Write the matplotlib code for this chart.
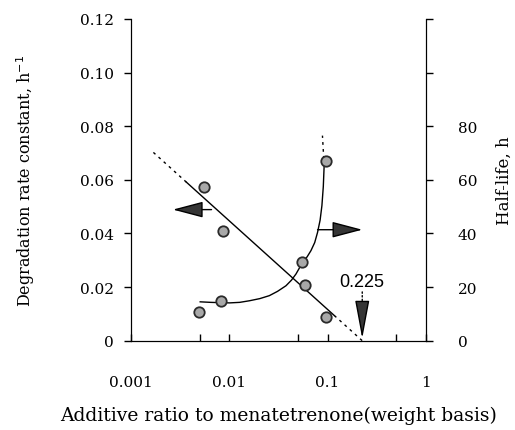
import numpy as np
import matplotlib
matplotlib.use("Agg")
import matplotlib.pyplot as plt
from matplotlib.ticker import FixedLocator, NullFormatter

plt.rcParams['font.family'] = ['DejaVu Serif']

# degradation rate constant (left axis)
ratio_k = [0.0055, 0.0086, 0.059, 0.097]
rate_k = [0.0573, 0.0409, 0.0208, 0.0088]

# half-life (right axis)
ratio_h = [0.0049, 0.0082, 0.055, 0.097]
half_life = [10.7, 14.8, 29.4, 67.0]

# regression line k = a + b*log10(x), zero at 0.225
x_zero = 0.225
slope = -0.0331
line_solid = [0.00366, 0.117]
line_dash_lo = [0.0017, 0.00366]
line_dash_hi = [0.117, 0.225]

# fitted half-life curve
curve_x = [0.00508, 0.0065, 0.00798, 0.0101, 0.0128, 0.0161, 0.0205, 0.0256,
           0.031, 0.0378, 0.0430, 0.0478, 0.0557, 0.062, 0.0678, 0.0740,
           0.0791, 0.0840, 0.0876, 0.0905, 0.0923]
curve_h = [14.5, 14.3, 14.2, 14.1, 14.3, 14.9, 15.7, 16.8, 18.4, 20.5,
           22.6, 24.9, 29.2, 31.3, 33.6, 36.6, 40.4, 45.0, 50.4, 57.5, 65.3]
curve_dash_x = [0.0923, 0.0887]
curve_dash_h = [65.3, 76.5]


def kline(x):
    x = np.array(x)
    return slope * (np.log10(x) - np.log10(x_zero))


fig = plt.figure(figsize=(5.15, 4.31), dpi=100)
ax = fig.add_axes([0.2538, 0.2072, 0.8272 - 0.2538, 0.9536 - 0.2072])
ax2 = ax.twinx()

ax.set_xscale('log')
ax.set_xlim(0.001, 1)
ax.set_ylim(0, 0.12)
ax2.set_ylim(0, 120)

# k line
xs = np.logspace(np.log10(line_solid[0]), np.log10(line_solid[1]), 50)
ax.plot(xs, kline(xs), color='black', lw=1)
for seg in (line_dash_lo, line_dash_hi):
    xs = np.logspace(np.log10(seg[0]), np.log10(seg[1]), 20)
    ax.plot(xs, kline(xs), color='black', lw=1, ls=(0, (2, 3)))

# half-life curve
ax2.plot(curve_x, curve_h, color='black', lw=1, solid_joinstyle='round')
ax2.plot(curve_dash_x, curve_dash_h, color='black', lw=1, ls=(0, (2, 3)))

mk = dict(marker='o', ls='none', ms=7.5, mfc='#a8a8a8', mec='#2a2a2a', mew=1.3, zorder=5)
ax.plot(ratio_k, rate_k, **mk)
ax2.plot(ratio_h, half_life, **mk)

# arrows
head = dict(arrowstyle='-|>,head_length=1.9,head_width=0.5', fc='#353535',
            ec='black', lw=1, mutation_scale=10, shrinkA=0, shrinkB=0)
ax.annotate('', xy=(0.00268, 0.0489), xytext=(0.00662, 0.0489), arrowprops=head)
ax2.annotate('', xy=(0.2254, 41.4), xytext=(0.0791, 41.4), arrowprops=head)

ax.annotate('', xy=(x_zero, 0.0100), xytext=(x_zero, 0.0182),
            arrowprops=dict(arrowstyle='-', ls=':', lw=1, color='black',
                            shrinkA=0, shrinkB=0))
ax.annotate('', xy=(x_zero, 0.0008), xytext=(x_zero, 0.0100),
            arrowprops=dict(arrowstyle='-|>,head_length=2.4,head_width=0.45',
                            fc='#353535', ec='black', lw=1, mutation_scale=10,
                            shrinkA=0, shrinkB=0))
ax.text(x_zero, 0.0219, '0.225', ha='center', va='center',
        family='Liberation Sans', fontsize=13)

# axes styling
for a in (ax, ax2):
    a.spines['top'].set_visible(False)

ax.set_yticks([0, 0.02, 0.04, 0.06, 0.08, 0.10, 0.12])
ax.set_yticklabels(['0', '0.02', '0.04', '0.06', '0.08', '0.10', '0.12'])
ax.tick_params(axis='y', direction='out', length=5, width=1, pad=7, labelsize=11)

ax.xaxis.set_major_locator(FixedLocator([0.001, 0.01, 0.1, 1]))
ax.set_xticklabels(['0.001', '0.01', '0.1', '1'])
ax.xaxis.set_minor_locator(FixedLocator([0.005, 0.05, 0.5]))
ax.xaxis.set_minor_formatter(NullFormatter())
ax.tick_params(axis='x', which='both', direction='in', length=5, width=1,
               pad=25, labelsize=11)

ax2.set_yticks([0, 20, 40, 60, 80, 100, 120])
ax2.set_yticklabels(['0', '20', '40', '60', '80', '', ''])
ax2.tick_params(axis='y', direction='out', length=5, width=1, pad=18, labelsize=11)

ax.set_xlabel('Additive ratio to menatetrenone(weight basis)', fontsize=13.5, labelpad=12)
ax.set_ylabel('Degradation rate constant, h$^{-1}$', fontsize=11.5, labelpad=31)
ax2.set_ylabel('Half-life, h', fontsize=12, labelpad=13)

fig.savefig('out.png', dpi=100)
